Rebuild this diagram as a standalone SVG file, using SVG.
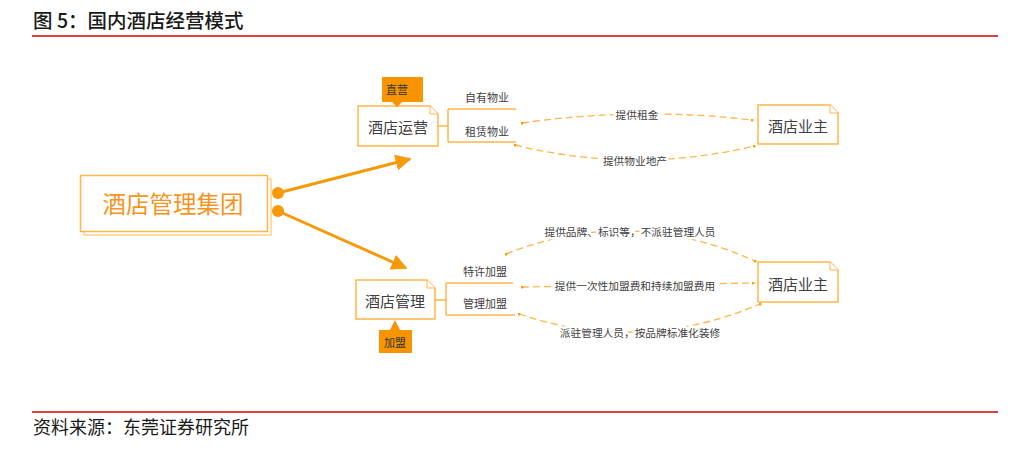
<svg xmlns="http://www.w3.org/2000/svg" width="1031" height="459" viewBox="0 0 1031 459">
<defs>
<style>
text{font-family:"Noto Sans CJK SC","Liberation Sans",sans-serif;}
.box{fill:#fff;stroke:#FFB54A;stroke-width:1.5;}
.fold{fill:#fff;stroke:#FFB54A;stroke-width:1;}
.node{font-size:15px;fill:#404040;text-anchor:middle;dominant-baseline:central;}
.sub{font-size:11px;fill:#404040;text-anchor:middle;dominant-baseline:central;}
.lab{font-size:10.7px;fill:#404040;text-anchor:middle;dominant-baseline:central;paint-order:stroke;stroke:#fff;stroke-width:5;stroke-linejoin:round;}
.tag{fill:#F79400;}
.tagt{font-size:11px;fill:#333;text-anchor:middle;dominant-baseline:central;}
.br{fill:none;stroke:#FFB54A;stroke-width:1.5;}
.dash{fill:none;stroke:#FFB54A;stroke-width:1.3;stroke-dasharray:7 4;marker-start:url(#dot);marker-end:url(#dot);}
.main{fill:none;stroke:#F79A0A;stroke-width:3;marker-end:url(#arr);}
.rule{stroke:#D00000;stroke-width:1.5;}
</style>
<marker id="dot" viewBox="0 0 6 6" refX="3" refY="3" markerWidth="3" markerHeight="3" markerUnits="userSpaceOnUse"><circle cx="3" cy="3" r="3" fill="#F79A0A"/></marker>
<marker id="arr" viewBox="0 0 10 10" refX="9" refY="5" markerWidth="16" markerHeight="16" markerUnits="userSpaceOnUse" orient="auto"><path d="M0,0 L10,5 L0,10 z" fill="#F79A0A"/></marker>
</defs>
<rect width="1031" height="459" fill="#fff"/>
<text x="33" y="28" font-size="19.5" font-weight="500" fill="#1a1a1a">图 5：国内酒店经营模式</text>
<line class="rule" x1="32" y1="36" x2="998" y2="36"/>
<line class="rule" x1="32" y1="412" x2="998" y2="412"/>
<text x="33" y="434" font-size="18" fill="#1a1a1a">资料来源：东莞证券研究所</text>

<g id="connectors">
<circle cx="278" cy="193" r="6" fill="#F79A0A"/>
<circle cx="278" cy="211" r="6" fill="#F79A0A"/>
<path class="main" d="M278,193 L410,159"/>
<path class="main" d="M278,211 L406,268"/>
<path class="br" d="M438,126 H448 M448,109 V142 M448,109 H516 M448,142 H516"/>
<path class="br" d="M435,300 H446 M446,283 V315 M446,283 H513 M446,315 H515"/>
<path class="dash" d="M522,123 Q637,106.5 752,120"/>
<path class="dash" d="M515,145 Q635,174.5 754,146"/>
<path class="dash" d="M506,254 Q630,204.5 755,261"/>
<path class="dash" d="M522,287 L753,283"/>
<path class="dash" d="M519,314 Q640,355 760,304"/>
<text class="lab" x="637" y="114">提供租金</text>
<text class="lab" x="635" y="160">提供物业地产</text>
<text class="lab" x="630" y="231">提供品牌、标识等，不派驻管理人员</text>
<text class="lab" x="635" y="285">提供一次性加盟费和持续加盟费用</text>
<text class="lab" x="640" y="332">派驻管理人员，按品牌标准化装修</text>
</g>

<g id="group-node">
<rect x="84" y="179" width="187" height="56" fill="#fff" stroke="#FFC878" stroke-width="1.3"/>
<rect x="80.5" y="175.5" width="187" height="56" class="box"/>
<text x="173" y="203" font-size="23.5" fill="#F7941D" text-anchor="middle" dominant-baseline="central">酒店管理集团</text>
</g>

<g id="ops-node">
<path class="box" d="M358,106 H430 L438,114 V146 H358 Z"/>
<path class="fold" d="M430,106 V114 H438"/>
<text class="node" x="398" y="126">酒店运营</text>
<path class="tag" d="M382,77 H423 V102 H402 L397,107 L392,102 H382 Z"/>
<text class="tagt" x="397" y="89">直营</text>
<text class="sub" x="487" y="97">自有物业</text>
<text class="sub" x="487" y="131">租赁物业</text>
</g>

<g id="mgmt-node">
<path class="box" d="M356,280 H427 L435,288 V319 H356 Z"/>
<path class="fold" d="M427,280 V288 H435"/>
<text class="node" x="395" y="300">酒店管理</text>
<path class="tag" d="M379,353 H412 V330 H400 L395,320 L390,330 H379 Z"/>
<text class="tagt" x="395" y="342">加盟</text>
<text class="sub" x="485" y="271">特许加盟</text>
<text class="sub" x="485" y="303">管理加盟</text>
</g>

<g id="owner-top">
<path class="box" d="M758,105 H830 L838,113 V144 H758 Z"/>
<path class="fold" d="M830,105 V113 H838"/>
<text class="node" x="798" y="125">酒店业主</text>
</g>

<g id="owner-bottom">
<path class="box" d="M758,262 H830 L838,270 V302 H758 Z"/>
<path class="fold" d="M830,262 V270 H838"/>
<text class="node" x="798" y="283">酒店业主</text>
</g>
</svg>
